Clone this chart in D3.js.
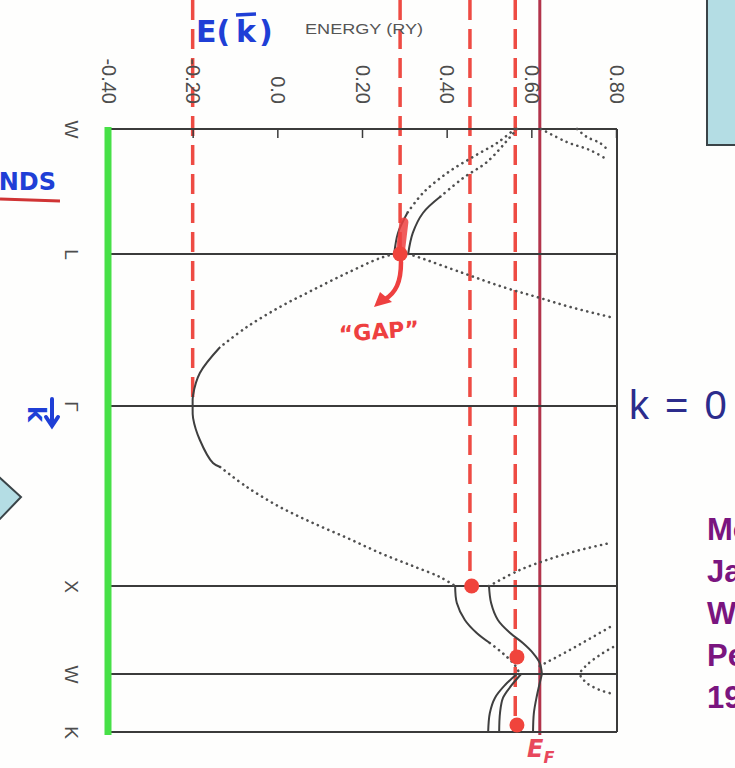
<!DOCTYPE html>
<html>
<head>
<meta charset="utf-8">
<script src="https://cdn.jsdelivr.net/npm/d3@7"></script>
<style>
  html, body { margin: 0; padding: 0; background: #fefefd; }
  svg { display: block; }
</style>
</head>
<body>
<svg id="chart" width="735" height="768"></svg>
<script>
// ---- k-path along the fcc Brillouin zone (units of 2π/a) ----
const kLabels = ["W", "L", "Γ", "X", "W", "K"];
const kPoints = [0, 0.707, 1.573, 2.573, 3.073, 3.427];

// ---- energy axis (Ry) ----
const eTicks = [-0.40, -0.20, 0.0, 0.20, 0.40, 0.60, 0.80];
const eTickLabels = ["-0.40", "-0.20", "0.0", "0.20", "0.40", "0.60", "0.80"];
const fermiEnergy = 0.62;

// ---- bands: [k, E] ----
// lowest band, L -> Γ (dotted part)
const bandLG = [[0.707, 0.276], [0.730, 0.243], [0.815, 0.165], [0.912, 0.084], [1.009, 0.006], [1.123, -0.072], [1.237, -0.135]];
// lowest band around Γ (solid part)
const bandGamma = [[1.237, -0.135], [1.385, -0.183], [1.510, -0.199], [1.573, -0.200], [1.640, -0.199], [1.762, -0.183], [1.890, -0.152], [1.912, -0.135]];
// lowest band, Γ -> X (dotted part)
const bandGX = [[1.912, -0.135], [2.023, -0.072], [2.134, 0.006], [2.223, 0.084], [2.306, 0.165], [2.390, 0.243], [2.462, 0.320], [2.523, 0.384], [2.573, 0.420]];
// second band leaving L towards Γ
const bandL2 = [[0.707, 0.309], [0.724, 0.332], [0.815, 0.438], [0.895, 0.533], [0.952, 0.613], [1.009, 0.692], [1.066, 0.786]];
// second band leaving X towards Γ
const bandX2 = [[2.573, 0.500], [2.484, 0.573], [2.417, 0.651], [2.373, 0.715], [2.334, 0.786]];
// W -> L pair, solid near L
const bandWL1Solid = [[0.475, 0.307], [0.588, 0.285], [0.707, 0.276]];
const bandWL1Dot = [[0.000, 0.561], [0.079, 0.519], [0.158, 0.462], [0.249, 0.401], [0.362, 0.344], [0.475, 0.307]];
const bandWL2Solid = [[0.385, 0.384], [0.475, 0.344], [0.588, 0.320], [0.707, 0.309]];
const bandWL2Dot = [[0.000, 0.566], [0.045, 0.550], [0.187, 0.495], [0.277, 0.439], [0.385, 0.384]];
// X -> W
const bandXW1Solid = [[2.573, 0.420], [2.670, 0.424], [2.766, 0.443], [2.840, 0.471], [2.897, 0.502]];
const bandXW1Dot = [[2.897, 0.502], [2.942, 0.526], [2.982, 0.545], [3.022, 0.561], [3.073, 0.573]];
const bandXW2 = [[2.573, 0.500], [2.670, 0.505], [2.766, 0.521], [2.840, 0.550], [2.897, 0.580], [2.954, 0.604], [3.011, 0.620], [3.073, 0.625]];
// W -> K
const bandWK1 = [[3.073, 0.566], [3.140, 0.538], [3.219, 0.514], [3.311, 0.502], [3.427, 0.498]];
const bandWK2 = [[3.073, 0.576], [3.146, 0.552], [3.219, 0.533], [3.311, 0.526], [3.427, 0.524]];
const bandWK3 = [[3.073, 0.625], [3.207, 0.613], [3.311, 0.606], [3.427, 0.604]];
// higher bands (dotted)
const bandHighXW = [[3.028, 0.620], [2.920, 0.703], [2.806, 0.786]];
const bandHighW = [[2.920, 0.793], [2.965, 0.762], [3.022, 0.731], [3.073, 0.715], [3.128, 0.731], [3.171, 0.762], [3.195, 0.793]];
const bandTopA = [[0.000, 0.623], [0.074, 0.684], [0.119, 0.738], [0.175, 0.781]];
const bandTopB = [[0.000, 0.708], [0.045, 0.731], [0.079, 0.762], [0.119, 0.781]];

const solidBands = [bandGamma, bandWL1Solid, bandWL2Solid, bandXW1Solid, bandXW2, bandWK1, bandWK2, bandWK3];
const dottedBands = [bandLG, bandGX, bandL2, bandX2, bandWL1Dot, bandWL2Dot, bandXW1Dot, bandHighXW, bandHighW, bandTopA, bandTopB];

// ---- free-electron reference levels: energy and the k where each stops ----
const refEnergies = [-0.20, 0.29, 0.455, 0.562];
const refStopK = [1.573, 0.707, 2.573, 3.38];
const markerK = [0.707, 2.573, 2.976, 3.384];
const markerE = [0.29, 0.459, 0.566, 0.566];
const gapMark = [[0.526, 0.299], [0.707, 0.290]];

// ---- reference text ----
const authorLines = ["Moruzzi", "Janak", "Williams", "Pergamon", "1978"];

// ---------------------------------------------------------------
const svg = d3.select("#chart");

const xE = d3.scaleLinear().domain([-0.4, 0.8]).range([108, 616]);
const yK = d3.scaleLinear().domain(kPoints).range([129, 254, 406, 586, 674, 732]);

const boxLeft = xE(-0.4), boxRight = xE(0.8) + 1;
const boxTop = yK(kPoints[0]), boxBottom = yK(kPoints[kPoints.length - 1]);

// side panels
svg.append("rect").attr("x", 707).attr("y", -5).attr("width", 40).attr("height", 150)
  .attr("fill", "#b4dde4").attr("stroke", "#3a4448").attr("stroke-width", 2);
svg.append("path").attr("d", "M-2,476 L21,497 L-2,521 Z")
  .attr("fill", "#b4dde4").attr("stroke", "#3a4448").attr("stroke-width", 2);

// reference energy levels (dashed) and the Fermi level (solid)
const refG = svg.append("g");
refEnergies.forEach((e, i) => {
  refG.append("line")
    .attr("x1", xE(e)).attr("x2", xE(e))
    .attr("y1", 0).attr("y2", yK(refStopK[i]))
    .attr("stroke", "#ee4b43").attr("stroke-width", 3.5)
    .attr("stroke-dasharray", "20,9");
});
refG.append("line")
  .attr("x1", xE(fermiEnergy)).attr("x2", xE(fermiEnergy))
  .attr("y1", 0).attr("y2", boxBottom + 3)
  .attr("stroke", "#b2344b").attr("stroke-width", 3);

// frame: symmetry-point lines + right edge
const frame = svg.append("g").attr("stroke", "#3b3b3b").attr("stroke-width", 2);
frame.selectAll("line.k").data(kPoints).join("line")
  .attr("class", "k")
  .attr("x1", boxLeft).attr("x2", boxRight)
  .attr("y1", d => yK(d)).attr("y2", d => yK(d));
frame.append("line").attr("x1", boxRight).attr("x2", boxRight)
  .attr("y1", boxTop).attr("y2", boxBottom);

// energy axis along the top edge
const eAxis = d3.axisTop(xE).tickValues(eTicks).tickSizeInner(-9).tickSizeOuter(0)
  .tickFormat((d, i) => eTickLabels[i]);
const eAxisG = svg.append("g").attr("transform", `translate(0,${boxTop})`).call(eAxis);
eAxisG.select(".domain").remove();
eAxisG.selectAll(".tick line").attr("stroke", "#3b3b3b").attr("stroke-width", 1.5);
eAxisG.selectAll(".tick text")
  .attr("transform", "rotate(90)")
  .attr("x", -25).attr("y", 0).attr("dy", "0.35em")
  .attr("text-anchor", "end")
  .attr("font-family", "Liberation Sans, Arial, sans-serif")
  .attr("font-size", 20).attr("fill", "#4d4d4d");

// k axis along the left edge
const kAxis = d3.axisLeft(yK).tickValues(kPoints).tickSize(0)
  .tickFormat((d, i) => kLabels[i]);
const kAxisG = svg.append("g").attr("transform", `translate(${boxLeft},0)`).call(kAxis);
kAxisG.select(".domain").remove();
kAxisG.selectAll(".tick text")
  .attr("transform", "translate(-36,0) rotate(90)")
  .attr("x", 0).attr("y", 0).attr("dy", "0.35em")
  .attr("text-anchor", "middle")
  .attr("font-family", "Liberation Sans, Arial, sans-serif")
  .attr("font-size", 19).attr("fill", "#4d4d4d");

// green left edge
svg.append("line").attr("x1", boxLeft).attr("x2", boxLeft)
  .attr("y1", boxTop - 2).attr("y2", boxBottom + 3)
  .attr("stroke", "#47e047").attr("stroke-width", 7);

// axis title
svg.append("text").attr("x", 305).attr("y", 34)
  .attr("font-family", "Liberation Sans, Arial, sans-serif")
  .attr("font-size", 14).attr("fill", "#555")
  .attr("textLength", 118).attr("lengthAdjust", "spacingAndGlyphs")
  .text("ENERGY (RY)");

// bands
const line = d3.line().x(d => xE(d[1])).y(d => yK(d[0])).curve(d3.curveCatmullRom.alpha(0.5));
svg.append("g").selectAll("path").data(dottedBands).join("path")
  .attr("d", line).attr("fill", "none")
  .attr("stroke", "#505050").attr("stroke-width", 2.6)
  .attr("stroke-linecap", "round").attr("stroke-dasharray", "0.1,5.6");
svg.append("g").selectAll("path").data(solidBands).join("path")
  .attr("d", line).attr("fill", "none")
  .attr("stroke", "#3f3f3f").attr("stroke-width", 2);

// gap highlight at L
svg.append("path").attr("d", d3.line().x(d => xE(d[1])).y(d => yK(d[0]))(gapMark))
  .attr("stroke", "#ee4040").attr("stroke-width", 9).attr("stroke-linecap", "round")
  .attr("opacity", 0.85);

// markers on the reference levels
svg.append("g").selectAll("circle").data(markerK).join("circle")
  .attr("cx", (d, i) => xE(markerE[i])).attr("cy", d => yK(d))
  .attr("r", 7.5).attr("fill", "#f0443c");

// "GAP" arrow and label
svg.append("path").attr("d", "M401,262 C401,282 396,293 384,300")
  .attr("fill", "none").attr("stroke", "#ee4040").attr("stroke-width", 4.5).attr("stroke-linecap", "round");
svg.append("path").attr("d", "M374,307 L380,292 L392,302 Z").attr("fill", "#ee4040");
svg.append("text").attr("x", 379).attr("y", 339).attr("text-anchor", "middle")
  .attr("transform", "rotate(-4,379,330)")
  .attr("font-family", "DejaVu Sans, sans-serif").attr("font-weight", "bold")
  .attr("font-size", 22).attr("fill", "#ee4040").text("\u201CGAP\u201D");

// E_F label
const ef = svg.append("text").attr("x", 527).attr("y", 757)
  .attr("font-family", "DejaVu Sans, sans-serif").attr("font-style", "italic").attr("font-weight", "bold")
  .attr("font-size", 24).attr("fill", "#e8485c");
ef.append("tspan").text("E");
ef.append("tspan").attr("font-size", 16).attr("dy", 6).text("F");

// E(k) label
const ek = svg.append("g").attr("font-family", "DejaVu Sans, sans-serif").attr("font-weight", "bold")
  .attr("font-size", 30).attr("fill", "#1f3fd6");
ek.append("text").attr("x", 196).attr("y", 42).text("E(");
ek.append("text").attr("x", 236).attr("y", 42).text("k");
ek.append("text").attr("x", 259).attr("y", 42).text(")");
ek.append("line").attr("x1", 236).attr("x2", 256).attr("y1", 15).attr("y2", 14)
  .attr("stroke", "#1f3fd6").attr("stroke-width", 3.5);

// BANDS heading (runs off the left edge)
svg.append("text").attr("x", 56).attr("y", 190).attr("text-anchor", "end")
  .attr("font-family", "DejaVu Sans, sans-serif").attr("font-weight", "bold")
  .attr("font-size", 24).attr("fill", "#1f3fd6").text("BANDS");
svg.append("line").attr("x1", 0).attr("x2", 60).attr("y1", 199).attr("y2", 201)
  .attr("stroke", "#d03434").attr("stroke-width", 3);

// k vector mark beside Γ
svg.append("text").attr("transform", "translate(36,414) rotate(90)")
  .attr("text-anchor", "middle").attr("dy", "0.35em")
  .attr("font-family", "DejaVu Sans, sans-serif").attr("font-weight", "bold")
  .attr("font-size", 24).attr("fill", "#1f3fd6").text("k");
svg.append("path").attr("d", "M52,399 L52,424 M46,417 L52,426 L58,417")
  .attr("fill", "none").attr("stroke", "#1f3fd6").attr("stroke-width", 4).attr("stroke-linecap", "round");

// k = 0 note at Γ
svg.append("text").attr("x", 629).attr("y", 419)
  .attr("font-family", "Liberation Sans, Arial, sans-serif")
  .attr("font-size", 40).attr("fill", "#2c2c8c").attr("word-spacing", 5).text("k = 0");

// reference block
svg.append("g").selectAll("text").data(authorLines).join("text")
  .attr("x", 707).attr("y", (d, i) => 540 + i * 42)
  .attr("font-family", "Liberation Sans, Arial, sans-serif").attr("font-weight", "bold")
  .attr("font-size", 31).attr("fill", "#7a157f").text(d => d);
</script>
</body>
</html>
